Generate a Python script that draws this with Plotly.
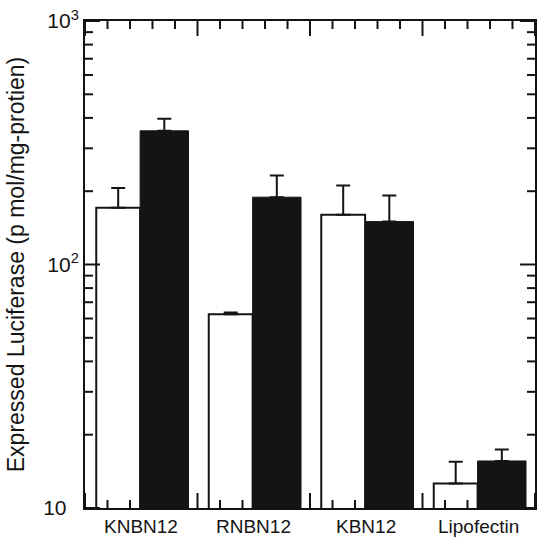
import plotly.graph_objects as go

categories = ["KNBN12", "RNBN12", "KBN12", "Lipofectin"]
white_vals = [171, 62.5, 160, 12.6]
white_err = [35, 1.0, 51, 2.9]
black_vals = [354, 189, 150, 15.6]
black_err = [43, 43, 42, 1.8]
ytick_major = [10, 100, 1000]
ytick_text = ["10<sup>&nbsp;&nbsp;&nbsp;</sup>", "10<sup>2</sup>", "10<sup>3</sup>"]
ytick_minor = [20, 30, 40, 50, 60, 70, 80, 90, 200, 300, 400, 500, 600, 700, 800, 900]
xtick_major = [0, 1, 2, 3, 4]
xtick_minor = [0.2, 0.4, 0.6, 0.8, 1.2, 1.4, 1.6, 1.8, 2.2, 2.4, 2.6, 2.8, 3.2, 3.4, 3.6, 3.8]

group_pos = list(range(len(categories)))
white_x = [p + 0.295 for p in group_pos]
black_x = [p + 0.705 for p in group_pos]
label_x = [p + 0.5 for p in group_pos]

INK = "#141414"
MAJOR_LEN = 15
MINOR_LEN = 8

fig = go.Figure()
fig.add_trace(go.Bar(
    x=white_x, y=white_vals, width=0.39,
    marker=dict(color="white", line=dict(color=INK, width=2)),
    error_y=dict(type="data", array=white_err, symmetric=False, arrayminus=[0]*4,
                 color=INK, thickness=2, width=7),
    showlegend=False,
))
fig.add_trace(go.Bar(
    x=black_x, y=black_vals, width=0.43,
    marker=dict(color=INK, line=dict(color=INK, width=1)),
    error_y=dict(type="data", array=black_err, symmetric=False, arrayminus=[0]*4,
                 color=INK, thickness=2, width=7),
    showlegend=False,
))

for lx, name in zip(label_x, categories):
    fig.add_annotation(x=lx, y=0, xref="x", yref="paper", text=name, showarrow=False,
                       yanchor="top", yshift=-6, font=dict(size=19, color=INK))

# inside tick marks on all four sides, placed through the axes' scales
tick_line = dict(color=INK, width=2)
for vals, length in [(xtick_major, MAJOR_LEN), (xtick_minor, MINOR_LEN)]:
    for v in vals:
        fig.add_shape(type="line", xref="x", yref="paper", x0=v, x1=v,
                      ysizemode="pixel", yanchor=0, y0=0, y1=length, line=tick_line)
        fig.add_shape(type="line", xref="x", yref="paper", x0=v, x1=v,
                      ysizemode="pixel", yanchor=1, y0=0, y1=-length, line=tick_line)
for vals, length in [(ytick_major, MAJOR_LEN), (ytick_minor, MINOR_LEN)]:
    for v in vals:
        fig.add_shape(type="line", xref="paper", yref="y", y0=v, y1=v,
                      xsizemode="pixel", xanchor=0, x0=0, x1=length, line=tick_line)
        fig.add_shape(type="line", xref="paper", yref="y", y0=v, y1=v,
                      xsizemode="pixel", xanchor=1, x0=0, x1=-length, line=tick_line)

fig.update_layout(
    width=538, height=545,
    margin=dict(l=85, r=3, t=21, b=37),
    plot_bgcolor="white", paper_bgcolor="white",
    barmode="overlay",
    font=dict(family="Liberation Sans, Arial, sans-serif", color=INK),
    xaxis=dict(type="linear", range=[0, 4], showticklabels=False, ticks="",
               showline=True, linewidth=2, linecolor=INK, mirror=True,
               showgrid=False, zeroline=False, automargin=False),
    yaxis=dict(type="log", range=[1, 3], tickmode="array", tickvals=ytick_major, ticktext=ytick_text,
               ticks="", showline=True, linewidth=2, linecolor=INK, mirror=True,
               showgrid=False, zeroline=False, automargin=False,
               tickfont=dict(size=21),
               title=dict(text="Expressed Luciferase (p mol/mg-protien)", font=dict(size=23), standoff=12)),
)

fig.write_html("out.html", config={"displayModeBar": False},
               post_script="document.body.style.margin='0';document.body.style.padding='0';")
